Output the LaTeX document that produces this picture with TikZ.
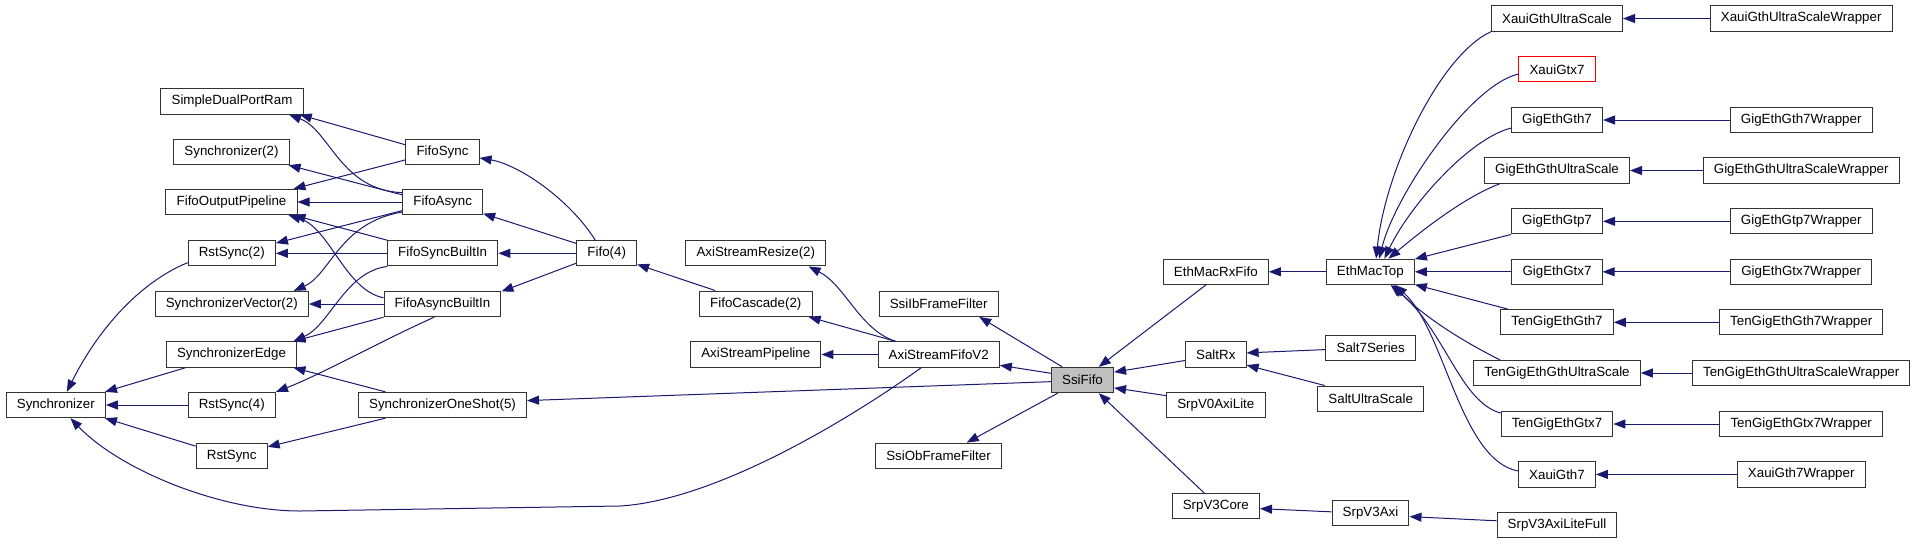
\documentclass[tikz,border=0pt]{standalone}
\usepackage{fontspec}
\setmainfont{Liberation Sans}
\usetikzlibrary{arrows.meta}
\definecolor{edgeblue}{HTML}{191970}
\begin{document}
\begin{tikzpicture}[x=0.75pt,y=-0.75pt,font=\fontsize{10}{12}\selectfont,
  box/.style={draw=black!80,line width=0.75pt,fill=white,minimum height=19pt,inner xsep=8pt,inner ysep=0pt},
  edge/.style={draw=edgeblue,line width=0.75pt,-{Triangle[length=9pt,width=6.75pt]}}]
\useasboundingbox (0,0) rectangle (1917,544);
\node[box] (sdpr) at (232,101.5) {SimpleDualPortRam};
\node[box] (sync2) at (231.5,152) {Synchronizer(2)};
\node[box] (fop) at (231.5,202) {FifoOutputPipeline};
\node[box] (rst2) at (231.8,253.3) {RstSync(2)};
\node[box] (sv2) at (231.8,304) {SynchronizerVector(2)};
\node[box] (sedge) at (231.5,354.5) {SynchronizerEdge};
\node[box] (sync) at (55.8,405) {Synchronizer};
\node[box] (rst4) at (231.8,405) {RstSync(4)};
\node[box] (rst) at (231.7,455.8) {RstSync};
\node[box] (fsync) at (442.5,152) {FifoSync};
\node[box] (fasync) at (442.7,202) {FifoAsync};
\node[box] (fsbi) at (442.7,253.3) {FifoSyncBuiltIn};
\node[box] (fabi) at (442.5,304) {FifoAsyncBuiltIn};
\node[box] (sos) at (442.5,405) {SynchronizerOneShot(5)};
\node[box] (fifo4) at (606.7,253.3) {Fifo(4)};
\node[box] (asr) at (755.8,253.3) {AxiStreamResize(2)};
\node[box] (fc) at (755.8,303.7) {FifoCascade(2)};
\node[box] (asp) at (755.8,354.5) {AxiStreamPipeline};
\node[box] (sibff) at (938.7,303.7) {SsiIbFrameFilter};
\node[box] (asf) at (938.7,354.5) {AxiStreamFifoV2};
\node[box] (sobff) at (938.5,455.8) {SsiObFrameFilter};
\node[box,fill=black!25] (ssififo) at (1082.5,380) {SsiFifo};
\node[box] (emrf) at (1215.8,271.8) {EthMacRxFifo};
\node[box] (saltrx) at (1215.8,354.5) {SaltRx};
\node[box] (srpv0) at (1215.8,405.3) {SrpV0AxiLite};
\node[box] (srpv3core) at (1215.8,506.3) {SrpV3Core};
\node[box] (emt) at (1370.3,271.8) {EthMacTop};
\node[box] (salt7) at (1370.7,348) {Salt7Series};
\node[box] (saltus) at (1370.7,398.7) {SaltUltraScale};
\node[box] (srpv3axi) at (1370.5,513.2) {SrpV3Axi};
\node[box] (xgus) at (1557,18.5) {XauiGthUltraScale};
\node[box,draw=red] (xgtx7) at (1557,69.3) {XauiGtx7};
\node[box] (geg7) at (1557,120) {GigEthGth7};
\node[box] (gegus) at (1557,170.5) {GigEthGthUltraScale};
\node[box] (gegp7) at (1557,221.3) {GigEthGtp7};
\node[box] (gegx7) at (1557,271.8) {GigEthGtx7};
\node[box] (tgeg7) at (1557,322.3) {TenGigEthGth7};
\node[box] (tgegus) at (1557,373) {TenGigEthGthUltraScale};
\node[box] (tgegx7) at (1557,424) {TenGigEthGtx7};
\node[box] (xg7) at (1557,474.4) {XauiGth7};
\node[box] (srpalf) at (1557,525) {SrpV3AxiLiteFull};
\node[box] (xgusw) at (1801.2,18.5) {XauiGthUltraScaleWrapper};
\node[box] (geg7w) at (1801.2,120) {GigEthGth7Wrapper};
\node[box] (gegusw) at (1801.2,170.5) {GigEthGthUltraScaleWrapper};
\node[box] (gegp7w) at (1801.2,221.3) {GigEthGtp7Wrapper};
\node[box] (gegx7w) at (1801.2,271.8) {GigEthGtx7Wrapper};
\node[box] (tgeg7w) at (1801.2,322.3) {TenGigEthGth7Wrapper};
\node[box] (tgegusw) at (1801.2,373) {TenGigEthGthUltraScaleWrapper};
\node[box] (tgegx7w) at (1801.2,424) {TenGigEthGtx7Wrapper};
\node[box] (xg7w) at (1801.2,474.4) {XauiGth7Wrapper};
\draw[edge] (fsync.169) -- (sdpr.-11);
\draw[edge] (fasync.167) .. controls (340,190) and (330,130) .. (sdpr.-13);
\draw[edge] (fasync.170) -- (sync2.-13);
\draw[edge] (fsync.192) -- (fop.12);
\draw[edge] (fasync.west) -- (fop.east);
\draw[edge] (fsbi.north west) -- (fop.-12);
\draw[edge] (fabi.174) .. controls (345,290) and (330,228) .. (fop.-13);
\draw[edge] (fasync.192) -- (rst2.13);
\draw[edge] (fsbi.west) -- (rst2.east);
\draw[edge] (fasync.194) .. controls (340,222) and (330,275) .. (sv2.12);
\draw[edge] (fabi.west) -- (sv2.east);
\draw[edge] (fsbi.south west) .. controls (345,272) and (330,325) .. (sedge.12);
\draw[edge] (fabi.south west) -- (sedge.12);
\draw[edge] (sos.167) -- (sedge.-12);
\draw[edge] (fabi.238) .. controls (385,339) and (320,375) .. (rst4.north east);
\draw[edge] (rst2.192) .. controls (140,282) and (97.8,329.6) .. (sync.50);
\draw[edge] (sedge.196) -- (sync.15);
\draw[edge] (rst4.west) -- (sync.east);
\draw[edge] (rst.165) -- (sync.-15);
\draw[edge] (sos.193) -- (rst.14);
\draw[edge] (asf.217) .. controls (860,412) and (720,500) .. (620,506) -- (300,511) .. controls (220,511) and (120,470) .. (sync.-42);
\draw[edge] (fifo4.131) .. controls (570,200) and (520,165) .. (fsync.-9);
\draw[edge] (fifo4.162) -- (fasync.-16);
\draw[edge] (fifo4.west) -- (fsbi.east);
\draw[edge] (fifo4.198) -- (fabi.12);
\draw[edge] (fc.162) -- (fifo4.-20);
\draw[edge] (asf.163) -- (fc.-14);
\draw[edge] (asf.163) .. controls (860,330) and (845,285) .. (asr.-14);
\draw[edge] (asf.west) -- (asp.east);
\draw[edge] (ssififo.183) -- (sos.3);
\draw[edge] (ssififo.147) -- (sibff.-18);
\draw[edge] (ssififo.168) -- (asf.-10);
\draw[edge] (ssififo.208) -- (sobff.25);
\draw[edge] (emrf.233) -- (ssififo.39);
\draw[edge] (saltrx.191) -- (ssififo.14);
\draw[edge] (srpv0.169) -- (ssififo.-14);
\draw[edge] (srpv3core.131) -- (ssififo.-39);
\draw[edge] (emt.west) -- (emrf.east);
\draw[edge] (salt7.182) -- (saltrx.3);
\draw[edge] (saltus.164) -- (saltrx.-19);
\draw[edge] (srpv3axi.178) -- (srpv3core.-3);
\draw[edge] (srpalf.176) -- (srpv3axi.-5);
\draw[edge] (xgus.south west) .. controls (1440,55) and (1385,170) .. (emt.66);
\draw[edge] (xgtx7.187) .. controls (1470,85) and (1395,195) .. (emt.56);
\draw[edge] (geg7.190) .. controls (1470,138) and (1410,205) .. (emt.43);
\draw[edge] (gegus.193) .. controls (1465,197) and (1425,228) .. (emt.36);
\draw[edge] (gegp7.south west) -- (emt.16);
\draw[edge] (gegx7.west) -- (emt.east);
\draw[edge] (tgeg7.165) -- (emt.-16);
\draw[edge] (tgegus.167) .. controls (1466,343) and (1425,318) .. (emt.-30);
\draw[edge] (tgegx7.169) .. controls (1460,402) and (1445,330) .. (emt.-33);
\draw[edge] (xg7.175) .. controls (1460,460) and (1445,330) .. (emt.-28);
\draw[edge] (xgusw.west) -- (xgus.east);
\draw[edge] (geg7w.west) -- (geg7.east);
\draw[edge] (gegusw.west) -- (gegus.east);
\draw[edge] (gegp7w.west) -- (gegp7.east);
\draw[edge] (gegx7w.west) -- (gegx7.east);
\draw[edge] (tgeg7w.west) -- (tgeg7.east);
\draw[edge] (tgegusw.west) -- (tgegus.east);
\draw[edge] (tgegx7w.west) -- (tgegx7.east);
\draw[edge] (xg7w.west) -- (xg7.east);
\end{tikzpicture}
\end{document}
